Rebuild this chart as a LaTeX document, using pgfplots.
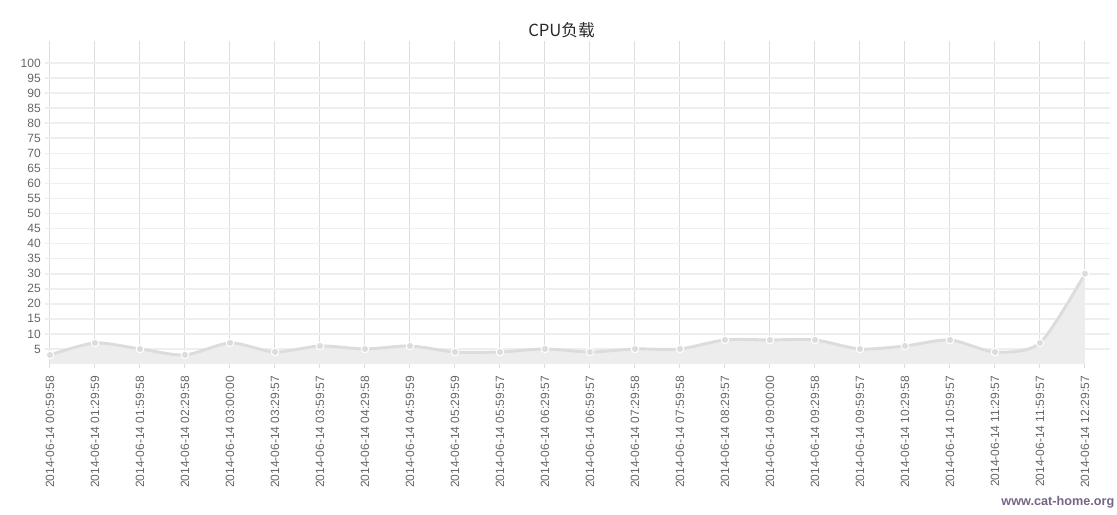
\documentclass[border=0pt]{standalone}
\usepackage{fontspec}
\setmainfont{Liberation Sans}
\newfontfamily\cjk{Noto Sans CJK SC}
\usepackage{pgfplots}
\pgfplotsset{compat=1.18}

\definecolor{linegray}{RGB}{220,220,220}
\definecolor{areagray}{RGB}{237,237,237}
\definecolor{hgrid}{RGB}{238,238,238}
\definecolor{vgrid}{RGB}{221,221,221}
\definecolor{ticktext}{RGB}{102,102,102}
\definecolor{mark}{RGB}{118,100,134}

\begin{document}
\begin{tikzpicture}
% frame of the whole picture (1117 x 514 px, 1px = 0.75pt)
\path[use as bounding box] (-33.75pt,-112.5pt) rectangle (804pt,273pt);
\begin{axis}[
    scale only axis,
    width=798.75pt, height=239.25pt,
    xmin=-0.111, xmax=23.556,
    ymin=0, ymax=106,
    axis line style={draw=none},
    /pgf/number format/assume math mode=true,
    xtick={0,...,23},
    xticklabels={
      2014-06-14 00:59:58, 2014-06-14 01:29:59, 2014-06-14 01:59:58,
      2014-06-14 02:29:58, 2014-06-14 03:00:00, 2014-06-14 03:29:57,
      2014-06-14 03:59:57, 2014-06-14 04:29:58, 2014-06-14 04:59:59,
      2014-06-14 05:29:59, 2014-06-14 05:59:57, 2014-06-14 06:29:57,
      2014-06-14 06:59:57, 2014-06-14 07:29:58, 2014-06-14 07:59:58,
      2014-06-14 08:29:57, 2014-06-14 09:00:00, 2014-06-14 09:29:58,
      2014-06-14 09:59:57, 2014-06-14 10:29:58, 2014-06-14 10:59:57,
      2014-06-14 11:29:57, 2014-06-14 11:59:57, 2014-06-14 12:29:57},
    ytick={5,10,...,100},
    tick align=outside,
    major tick length=3pt,
    xtick style={vgrid, line width=0.75pt},
    ytick style={draw=none},
    xmajorgrids, ymajorgrids,
    x grid style={vgrid, line width=0.75pt},
    y grid style={hgrid, line width=1.2pt},
    xticklabel style={yshift=-6pt, rotate=90, anchor=east, inner sep=0pt,
      font=\fontsize{9pt}{10pt}\selectfont, text=ticktext},
    yticklabel style={inner sep=0pt, xshift=0pt,
      font=\fontsize{9pt}{10pt}\selectfont, text=ticktext},
    clip=false,
  ]
  \addplot[draw=none, fill=areagray, smooth, tension=0.45] coordinates {
    (0,3) (1,7) (2,5) (3,3) (4,7) (5,4) (6,6) (7,5) (8,6) (9,4) (10,4) (11,5)
    (12,4) (13,5) (14,5) (15,8) (16,8) (17,8) (18,5) (19,6) (20,8) (21,4) (22,7) (23,30)
  } \closedcycle;
  \addplot[linegray, line width=2.2pt, smooth, tension=0.45,
    mark=*, mark size=2.8pt,
    mark options={fill=linegray, draw=white, line width=0.8pt}] coordinates {
    (0,3) (1,7) (2,5) (3,3) (4,7) (5,4) (6,6) (7,5) (8,6) (9,4) (10,4) (11,5)
    (12,4) (13,5) (14,5) (15,8) (16,8) (17,8) (18,5) (19,6) (20,8) (21,4) (22,7) (23,30)
  };
  \node[font=\cjk\fontsize{12.5pt}{14pt}\selectfont, text={rgb,255:red,40;green,40;blue,40}]
    at (axis description cs:0.485,1.047) {CPU负载};
  \node[font=\bfseries\fontsize{9.5pt}{11pt}\selectfont, text=mark]
    at (axis description cs:0.951,-0.433) {www.cat-home.org};
\end{axis}
\end{tikzpicture}
\end{document}
